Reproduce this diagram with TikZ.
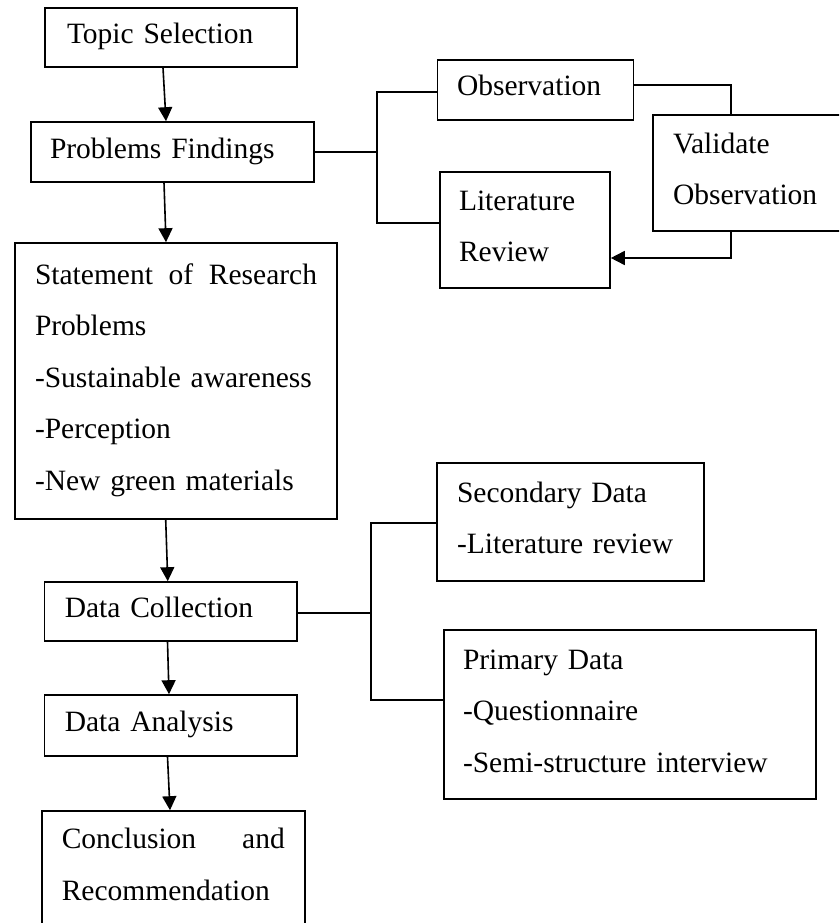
\documentclass[tikz,border=0pt]{standalone}
\usepackage{fontspec}
\setmainfont{Liberation Serif}
\usetikzlibrary{calc,arrows.meta}
\newcommand\mystrut{\rule[-9pt]{0pt}{30pt}}
\begin{document}
\begin{tikzpicture}[x=1pt,y=-1pt,
  box/.style={draw, line width=1.6pt, rectangle, inner sep=0pt, align=left,
    font=\fontsize{29.5pt}{51.5pt}\selectfont},
  conn/.style={line width=1.6pt},
  arr/.style={line width=1.6pt, -{Triangle[length=14pt,width=14pt]}}]
\useasboundingbox (0,0) rectangle (839,923);
\clip (0,0) rectangle (839,923);
\fill[white] (0,0) rectangle (839,923);

\node[box, minimum width=252pt, minimum height=59pt, text width=208pt] (topic) at (171,37.5) {\mystrut Topic Selection};
\node[box, minimum width=283pt, minimum height=60pt, text width=245pt] (pf) at (172.5,152) {\mystrut Problems Findings};
\node[box, minimum width=322pt, minimum height=276pt, text width=282pt] (stmt) at (176,381)
  {\mystrut\makebox[282pt]{Statement\hfill of\hfill Research}\\
   \mystrut Problems\\
   \mystrut -Sustainable awareness\\
   \mystrut -Perception\\
   \mystrut -New green materials};
\node[box, minimum width=196pt, minimum height=60pt, text width=157pt] (obs) at (535.5,90) {\mystrut Observation};
\node[box, minimum width=170pt, minimum height=116pt, text width=132pt] (lit) at (525,230)
  {\mystrut Literature\\ \mystrut Review};
\node[box, minimum width=197pt, minimum height=116pt, text width=157pt] (val) at (751.5,173)
  {\mystrut Validate\\ \mystrut Observation};
\node[box, minimum width=252.5pt, minimum height=59pt, text width=212pt] (dc) at (170.75,611.5) {\mystrut Data Collection};
\node[box, minimum width=252.5pt, minimum height=61pt, text width=212pt] (da) at (170.75,725.5) {\mystrut Data Analysis};
\node[box, minimum width=263pt, minimum height=115pt, text width=223pt] (concl) at (173.3,868.5)
  {\mystrut\makebox[223pt]{Conclusion\hfill and}\\ \mystrut Recommendation};
\node[box, minimum width=267pt, minimum height=118pt, text width=227pt] (sec) at (570.5,522)
  {\mystrut Secondary Data\\ \mystrut -Literature review};
\node[box, minimum width=372pt, minimum height=169pt, text width=334pt] (prim) at (630,714.5)
  {\mystrut Primary Data\\ \mystrut -Questionnaire\\ \mystrut -Semi-structure interview};

% main flow arrows
\draw[arr] ($(topic.south)+(-8,0)$) -- ($(pf.north)+(-6.5,0)$);
\draw[arr] ($(pf.south)+(-8.5,0)$) -- ($(stmt.north)+(-10,0)$);
\draw[arr] ($(stmt.south)+(-10.3,0)$) -- ($(dc.north)+(-3,0)$);
\draw[arr] ($(dc.south)+(-3.25,0)$) -- ($(da.north)+(-1.75,0)$);
\draw[arr] ($(da.south)+(-3.25,0)$) -- ($(concl.north)+(-3.3,0)$);

% problems findings branch
\coordinate (j1) at (377,152);
\draw[conn] (pf.east) -- (j1);
\draw[conn] ($(obs.west)+(0,2)$) -| (j1) |- ($(lit.west)+(0,-7.3)$);
\draw[conn] ($(obs.east)+(0,-5)$) -| ($(val.north)+(-20.5,0)$);
\draw[arr] ($(val.south)+(-20.5,0)$) |- ($(lit.east)+(0,28)$);

% data collection branch
\coordinate (j2) at (371,613);
\draw[conn] ($(dc.east)+(0,1.5)$) -- (j2);
\draw[conn] ($(sec.west)+(0,1)$) -| (j2) |- ($(prim.west)+(0,-14.5)$);
\end{tikzpicture}
\end{document}
